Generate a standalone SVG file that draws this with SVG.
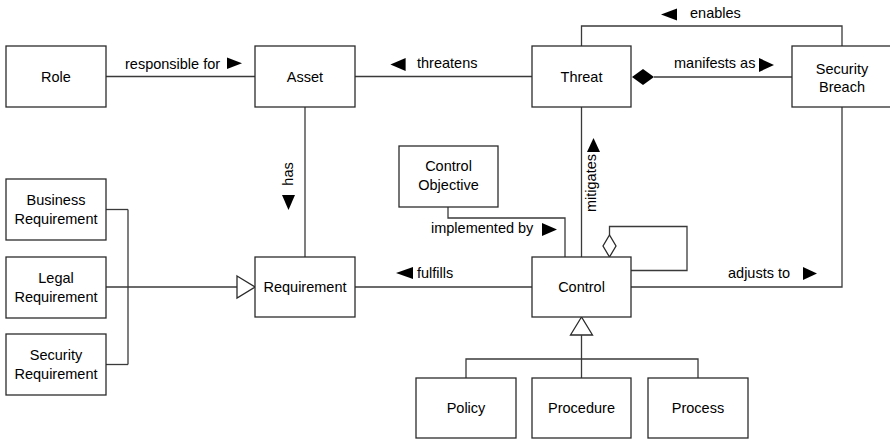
<svg xmlns="http://www.w3.org/2000/svg" width="890" height="441" viewBox="0 0 890 441">
<style>
.box{fill:#fff;stroke:#2b2b2b;stroke-width:1.3}
.ln{fill:none;stroke:#3a3a3a;stroke-width:1.3}
.t{font-family:"Liberation Sans",Arial,sans-serif;font-size:14.5px;fill:#000;text-anchor:middle}
.l{font-family:"Liberation Sans",Arial,sans-serif;font-size:14.5px;fill:#000}
.ar{fill:#000;stroke:none}
.hol{fill:#fff;stroke:#2b2b2b;stroke-width:1.3}
</style>
<rect width="890" height="441" fill="#fff"/>
<g id="connectors">
  <line class="ln" x1="106" y1="76.5" x2="255" y2="76.5"/>
  <line class="ln" x1="355" y1="76.5" x2="532" y2="76.5"/>
  <line class="ln" x1="654" y1="77" x2="792" y2="77"/>
  <polygon class="ar" points="632,77 643,69 654,77 643,85" stroke="#000" stroke-width="0.5"/>
  <polyline class="ln" points="581.5,46 581.5,26 842,26 842,46"/>
  <line class="ln" x1="305" y1="107" x2="305" y2="257"/>
  <line class="ln" x1="106" y1="209.5" x2="128" y2="209.5"/>
  <line class="ln" x1="128" y1="209.5" x2="128" y2="364.5"/>
  <line class="ln" x1="106" y1="364.5" x2="128" y2="364.5"/>
  <line class="ln" x1="106" y1="287" x2="237" y2="287"/>
  <polygon class="hol" points="237,276 255,287 237,298"/>
  <line class="ln" x1="355" y1="287" x2="532" y2="287"/>
  <polyline class="ln" points="448,207 448,218 565,218 565,257"/>
  <line class="ln" x1="581.5" y1="107" x2="581.5" y2="257"/>
  <polyline class="ln" points="609.5,235 609.5,226.5 687,226.5 687,270.5 631,270.5"/>
  <polygon class="hol" points="609.5,257 603,246 609.5,235 616,246"/>
  <polyline class="ln" points="631,287 842,287 842,107"/>
  <polygon class="hol" points="581.5,317 570.5,335 592.5,335"/>
  <line class="ln" x1="581.5" y1="335" x2="581.5" y2="378"/>
  <polyline class="ln" points="466,378 466,359 698,359 698,378"/>

  <text class="l" x="125" y="69.3">responsible for</text>
  <polygon class="ar" points="227,57.5 242,63.3 227,69"/>
  <text class="l" x="417" y="67.6">threatens</text>
  <polygon class="ar" points="405.6,58 390.4,64.5 405.6,71"/>
  <text class="l" x="674" y="67.6">manifests as</text>
  <polygon class="ar" points="759,58 774,65 759,72"/>
  <text class="l" x="690" y="17.5">enables</text>
  <polygon class="ar" points="677,8.5 661,14.5 677,20.5"/>
  <text class="t" transform="translate(293,174) rotate(-90)">has</text>
  <polygon class="ar" points="282,195 295,195 288.5,210"/>
  <text class="l" x="417" y="277.7">fulfills</text>
  <polygon class="ar" points="413,267 396,273 413,279"/>
  <text class="l" x="431" y="233">implemented by</text>
  <polygon class="ar" points="542,223 557,229.5 542,236"/>
  <text class="t" transform="translate(596,183) rotate(-90)">mitigates</text>
  <polygon class="ar" points="587,152 600,152 593.5,138"/>
  <text class="l" x="728" y="277.7">adjusts to</text>
  <polygon class="ar" points="803,267 817,273.5 803,280"/>
</g>
<g id="role"><rect class="box" x="6" y="46" width="100" height="61"/><text class="t" x="56" y="82">Role</text></g>
<g id="asset"><rect class="box" x="255" y="46" width="100" height="61"/><text class="t" x="305" y="82">Asset</text></g>
<g id="threat"><rect class="box" x="532" y="46" width="99" height="61"/><text class="t" x="581.5" y="82">Threat</text></g>
<g id="security-breach"><rect class="box" x="792" y="46" width="100" height="61"/><text class="t" x="842" y="73.5">Security</text><text class="t" x="842" y="91.5">Breach</text></g>
<g id="business-requirement"><rect class="box" x="6" y="179" width="100" height="61"/><text class="t" x="56" y="205">Business</text><text class="t" x="56" y="223.5">Requirement</text></g>
<g id="legal-requirement"><rect class="box" x="6" y="257" width="100" height="61"/><text class="t" x="56" y="283">Legal</text><text class="t" x="56" y="301.5">Requirement</text></g>
<g id="security-requirement"><rect class="box" x="6" y="334" width="100" height="61"/><text class="t" x="56" y="360">Security</text><text class="t" x="56" y="378.5">Requirement</text></g>
<g id="requirement"><rect class="box" x="255" y="257" width="100" height="60"/><text class="t" x="305" y="292">Requirement</text></g>
<g id="control-objective"><rect class="box" x="399" y="146" width="99" height="61"/><text class="t" x="448.5" y="171">Control</text><text class="t" x="448.5" y="189.5">Objective</text></g>
<g id="control"><rect class="box" x="532" y="257" width="99" height="60"/><text class="t" x="581.5" y="292">Control</text></g>
<g id="policy"><rect class="box" x="416" y="378" width="100" height="60"/><text class="t" x="466" y="413">Policy</text></g>
<g id="procedure"><rect class="box" x="532" y="378" width="99" height="60"/><text class="t" x="581.5" y="413">Procedure</text></g>
<g id="process"><rect class="box" x="648" y="378" width="100" height="60"/><text class="t" x="698" y="413">Process</text></g>
</svg>
